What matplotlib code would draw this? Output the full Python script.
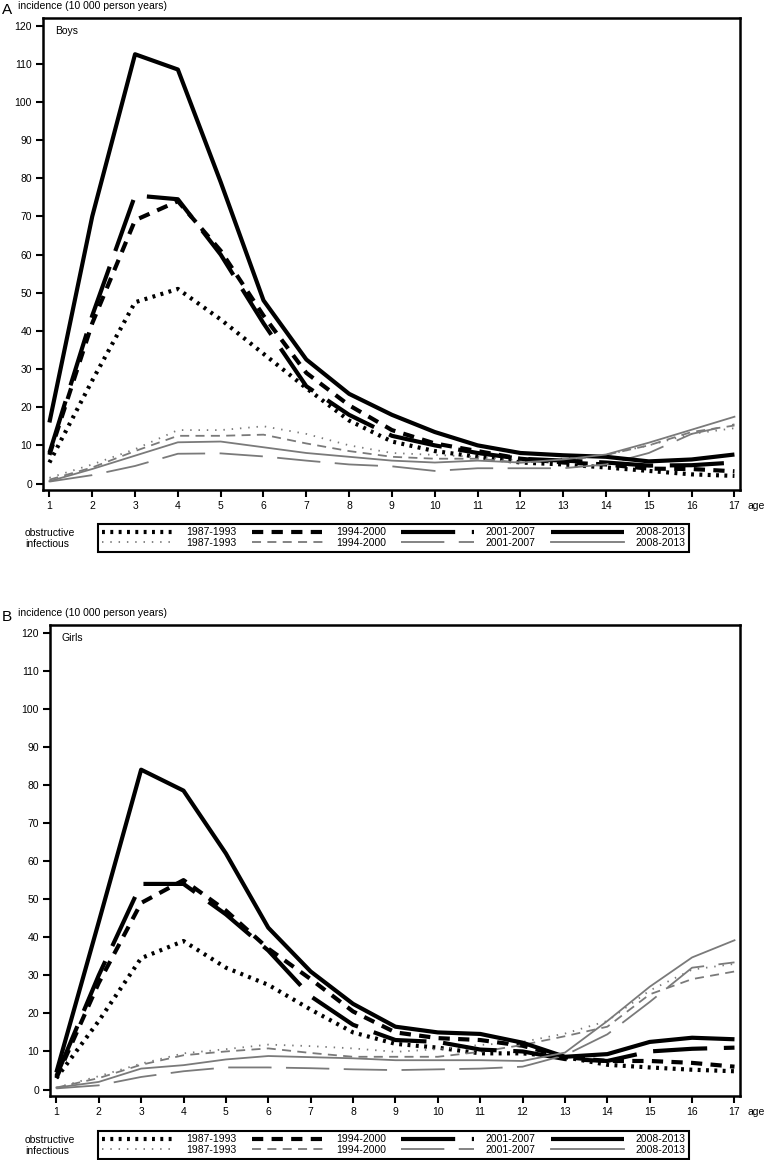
import matplotlib
matplotlib.use("Agg")
import matplotlib.pyplot as plt

plt.rcParams['font.family'] = ['Liberation Sans', 'DejaVu Sans']

# age axis
ages = list(range(1, 18))
years = ["1987-1993", "1994-2000", "2001-2007", "2008-2013"]

# Boys - obstructive
boys_obs_1987 = [5.5, 27, 47.5, 51, 43, 34, 25, 16.5, 11, 8.5, 7, 5.5, 5, 4.2, 3.3, 2.4, 2]
boys_obs_1994 = [7.5, 42, 69, 74, 61, 44, 29, 20.5, 14, 10.5, 8.5, 6.5, 5.5, 5, 3.9, 3.8, 3.2]
boys_obs_2001 = [8, 44, 75.5, 74.5, 60, 42, 25.5, 18, 12.5, 10, 8, 6.5, 6, 5.5, 4.7, 4.8, 5.5]
boys_obs_2008 = [16, 70, 112.5, 108.5, 79, 48, 32.5, 23.5, 18, 13.5, 10, 8, 7.4, 7, 5.8, 6.3, 7.6]
# Boys - infectious
boys_inf_1987 = [1.5, 5, 9, 14, 14, 15, 13, 10, 8, 7.5, 7, 6, 6.5, 7.5, 10, 13, 14.5]
boys_inf_1994 = [1, 4.2, 8.5, 12.5, 12.5, 12.8, 10.5, 8.5, 7, 6.5, 6.5, 5.5, 6, 7.5, 10, 13.5, 15.2]
boys_inf_2001 = [0.5, 2.2, 4.6, 7.8, 7.9, 7.1, 6, 5, 4.5, 3.3, 4, 4, 4, 5, 8, 13, 15.5]
boys_inf_2008 = [0.6, 3.8, 7.3, 10.8, 11, 9.5, 8, 7, 6, 5.5, 6, 5.5, 6.3, 7.6, 10.7, 14.1, 17.5]

# Girls - obstructive
girls_obs_1987 = [3, 18, 34.5, 39, 32, 27.5, 21, 15, 12, 11, 9.5, 9.5, 8.5, 6.5, 5.8, 5.2, 4.8]
girls_obs_1994 = [3, 28, 49, 55, 47, 37, 29, 20.5, 15, 13.5, 13, 11.5, 8.5, 7.5, 7.5, 7, 6]
girls_obs_2001 = [3.5, 30, 54, 54, 46, 36.5, 24.5, 17, 13, 12.5, 10.5, 10, 8, 7.5, 10, 10.7, 11]
girls_obs_2008 = [4.5, 44, 84, 78.5, 62, 42.5, 31, 22.5, 16.5, 15, 14.6, 12.3, 8.6, 9.3, 12.5, 13.6, 13.2]
# Girls - infectious
girls_inf_1987 = [0.5, 3.5, 6.8, 9.5, 10.6, 11.8, 11.4, 10.8, 9.9, 10.6, 11.7, 12.5, 14.7, 18, 26, 31.5, 33]
girls_inf_1994 = [0.5, 3, 6.5, 9, 10, 10.8, 9.6, 8.6, 8.6, 8.6, 9.9, 11.7, 14, 16.5, 25, 29, 31]
girls_inf_2001 = [0.3, 1.1, 3.3, 4.8, 5.8, 5.8, 5.6, 5.3, 5.1, 5.3, 5.5, 6, 9, 14.5, 23, 32, 33.4]
girls_inf_2008 = [0.5, 2, 5.5, 6.4, 7.9, 8.8, 8.5, 8.2, 7.7, 7.7, 7.7, 7.5, 9.7, 18, 27, 34.7, 39.2]

# line styles (dash patterns in units of linewidth)
obs_styles = [(0, (0.7, 1.3)), (0, (2.7, 2.0)), (0, (13, 4)), "-"]
inf_styles = [(0, (0.8, 3.8)), (0, (5, 3.5)), (0, (24, 8)), "-"]
obs_lw = 3.0
inf_lw = 1.3
gray = "#7a7a7a"

W, H = 768, 1160
fig = plt.figure(figsize=(W / 100, H / 100), dpi=100)


def draw_panel(rect, letter, sex, obs, inf, top_px, bottom_px):
    ax = fig.add_axes(rect)
    handles = []
    for i in range(4):
        l_obs, = ax.plot(ages, obs[i], color="black", lw=obs_lw,
                         linestyle=obs_styles[i], solid_capstyle="butt",
                         dash_capstyle="butt", label=years[i])
        l_inf, = ax.plot(ages, inf[i], color=gray, lw=inf_lw,
                         linestyle=inf_styles[i], dash_capstyle="butt",
                         label=years[i])
        handles += [l_obs, l_inf]
    ax.set_xlim(0.85, 17.13)
    ax.set_ylim(-1.7, 122)
    ax.set_xticks(ages)
    ax.set_yticks(range(0, 121, 10))
    ax.tick_params(direction="out", length=5, width=1.5, labelsize=7.5, pad=3)
    for s in ax.spines.values():
        s.set_linewidth(1.8)
    ax.text(0.017, 0.972, sex, transform=ax.transAxes, fontsize=7.5,
            ha="left", va="center")
    fig.text(748 / W, 1 - (bottom_px + 16) / H, "age", fontsize=7.5,
             ha="left", va="center")
    fig.text(2 / W, 1 - (top_px - 8) / H, letter, fontsize=11,
             ha="left", va="center")
    fig.text(18 / W, 1 - (top_px - 12) / H, "incidence (10 000 person years)",
             fontsize=7.5, ha="left", va="center")

    leg = ax.legend(handles=handles, ncol=4, loc="upper left",
                    bbox_to_anchor=(98 / W, 1 - (top_px + 507) / H,
                                    (689 - 98) / W, 0.001),
                    bbox_transform=fig.transFigure, mode="expand",
                    fontsize=7.5, handlelength=7, handletextpad=1.1,
                    labelspacing=0.05, borderpad=0.35, borderaxespad=0,
                    fancybox=False, framealpha=1)
    leg.get_frame().set_edgecolor("black")
    leg.get_frame().set_linewidth(1.5)
    fig.text(25 / W, 1 - (top_px + 515) / H, "obstructive", fontsize=7.5,
             ha="left", va="center")
    fig.text(25 / W, 1 - (top_px + 526) / H, "infectious", fontsize=7.5,
             ha="left", va="center")
    return ax


# panel A: axes box 43-740 px wide, 18-490 px high
draw_panel([43 / W, 1 - 490 / H, (740 - 43) / W, (490 - 18) / H], "A", "Boys",
           [boys_obs_1987, boys_obs_1994, boys_obs_2001, boys_obs_2008],
           [boys_inf_1987, boys_inf_1994, boys_inf_2001, boys_inf_2008], 18, 490)

# panel B: axes box 50-740 px wide, 625-1096 px high
draw_panel([50 / W, 1 - 1096 / H, (740 - 50) / W, (1096 - 625) / H], "B", "Girls",
           [girls_obs_1987, girls_obs_1994, girls_obs_2001, girls_obs_2008],
           [girls_inf_1987, girls_inf_1994, girls_inf_2001, girls_inf_2008], 625, 1096)

fig.savefig("out.png", dpi=100)
